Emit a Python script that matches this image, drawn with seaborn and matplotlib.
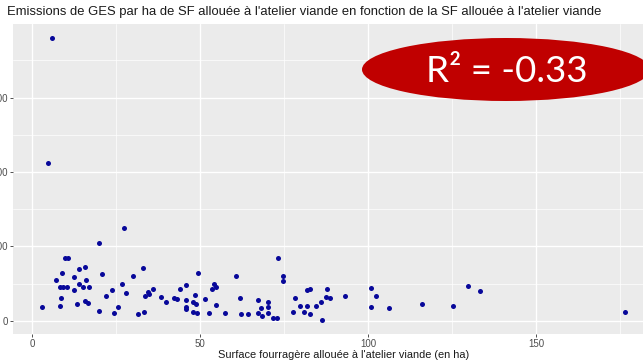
import matplotlib
matplotlib.use("Agg")
import matplotlib.pyplot as plt
import seaborn as sns
import pandas as pd
from matplotlib.patches import Ellipse
from matplotlib.ticker import MultipleLocator

# Surface fourragère allouée à l'atelier viande (ha)
surface_ha = [
    5.9, 4.8, 20.0, 27.5, 9.7, 10.7, 8.8, 14.1, 15.9, 20.7,
    30.2, 12.6, 7.1, 16.1, 14.1, 8.2, 9.2, 10.5, 15.1, 17.0,
    12.4, 26.7, 23.8, 27.9, 22.1, 8.5, 15.7, 16.6, 13.5, 3.0,
    8.3, 25.6, 20.0, 24.4, 33.1, 49.5, 60.7, 45.8, 44.0, 36.1,
    34.6, 34.8, 33.6, 38.3, 39.9, 42.4, 43.1, 45.8, 48.5, 48.0,
    48.7, 45.8, 45.9, 51.5, 53.5, 54.1, 54.8, 54.8, 52.7, 57.4,
    31.6, 33.2, 48.0, 49.0, 62.0, 62.2, 64.3, 67.4, 68.3, 68.5,
    67.4, 70.2, 70.2, 70.2, 71.6, 72.9, 73.1, 74.8, 74.8, 77.7,
    78.3, 79.9, 81.0, 81.8, 82.7, 81.8, 82.7, 84.5, 86.1, 86.2,
    87.7, 87.6, 88.6, 93.2, 100.9, 102.4, 100.9, 106.4, 116.1, 125.4,
    129.7, 133.4, 176.6,
]

# Emissions de GES par ha de SF allouée à l'atelier viande
ges_par_ha = [
    3807, 2116, 1043, 1248, 845, 845, 640, 698, 725, 631,
    604, 595, 546, 546, 497, 452, 452, 452, 452, 452,
    416, 497, 416, 380, 340, 305, 268, 242, 232, 192,
    201, 184, 138, 111, 707, 640, 608, 483, 425, 433,
    393, 362, 331, 326, 259, 305, 291, 278, 349, 255,
    228, 192, 165, 295, 425, 497, 460, 219, 111, 111,
    98, 121, 121, 111, 305, 90, 98, 282, 174, 67,
    111, 259, 181, 111, 44, 44, 839, 608, 533, 117,
    305, 201, 125, 416, 425, 201, 90, 201, 259, 17,
    425, 326, 313, 340, 443, 331, 184, 172, 231, 201,
    474, 399, 117,
]

x_ticks = [0, 50, 100, 150]
y_ticks = [0, 1000, 2000, 3000]

title = ("Emissions de GES par ha de SF allouée à l'atelier viande "
         "en fonction de la SF allouée à l'atelier viande")
x_label = "Surface fourragère allouée à l'atelier viande (en ha)"
r2_label = "R² = -0.33"

sns.set_theme(style="darkgrid", rc={
    "axes.facecolor": "#EBEBEB",
    "grid.color": "white",
    "figure.facecolor": "white",
})
plt.rcParams["font.family"] = ["Liberation Sans", "DejaVu Sans"]

W, H = 643, 361
fig = plt.figure(figsize=(W / 100, H / 100), dpi=100)

# plotting panel (pixel extents converted to figure fractions)
p_left, p_right, p_top, p_bottom = 13, 643, 24, 333.5
ax = fig.add_axes([p_left / W, 1 - p_bottom / H,
                   (p_right - p_left) / W, (p_bottom - p_top) / H])

df = pd.DataFrame({"surface": surface_ha, "ges": ges_par_ha})
sns.scatterplot(data=df, x="surface", y="ges", ax=ax,
                color="#08089A", s=13, linewidth=0, zorder=3)

ax.set_xlim(-5.65, 181.85)
ax.set_ylim(-170, 3990)
ax.set_xticks(x_ticks)
ax.set_yticks(y_ticks)
ax.xaxis.set_minor_locator(MultipleLocator(25))
ax.yaxis.set_minor_locator(MultipleLocator(500))
ax.grid(which="major", color="white", linewidth=1.0)
ax.grid(which="minor", color="white", linewidth=0.5)
ax.set_axisbelow(True)
ax.tick_params(which="major", bottom=True, left=True, length=2.2, width=0.6,
               color="#333333", labelsize=7.0, labelcolor="#4D4D4D", pad=1.5)
ax.tick_params(which="minor", length=0)
ax.set_xlabel("")
ax.set_ylabel("")
for spine in ax.spines.values():
    spine.set_visible(False)

fig.text(7 / W, 1 - 12.5 / H, title, ha="left", va="center",
         fontsize=9.35, color="#1A1A1A")
fig.text(344 / W, 1 - 354.5 / H, x_label, ha="center", va="center",
         fontsize=7.9, color="#1A1A1A")

# overlay in pixel coordinates for the R² callout
overlay = fig.add_axes([0, 0, 1, 1], facecolor="none")
overlay.set_xlim(0, W)
overlay.set_ylim(H, 0)
overlay.axis("off")
overlay.add_patch(Ellipse((506, 69.5), 288, 63, facecolor="#C00000",
                          edgecolor="none"))
overlay.text(506.5, 71, r2_label, ha="center", va="center", color="white",
             fontsize=26.5, family=["Lato", "DejaVu Sans"])

fig.savefig("out.png", dpi=100)
